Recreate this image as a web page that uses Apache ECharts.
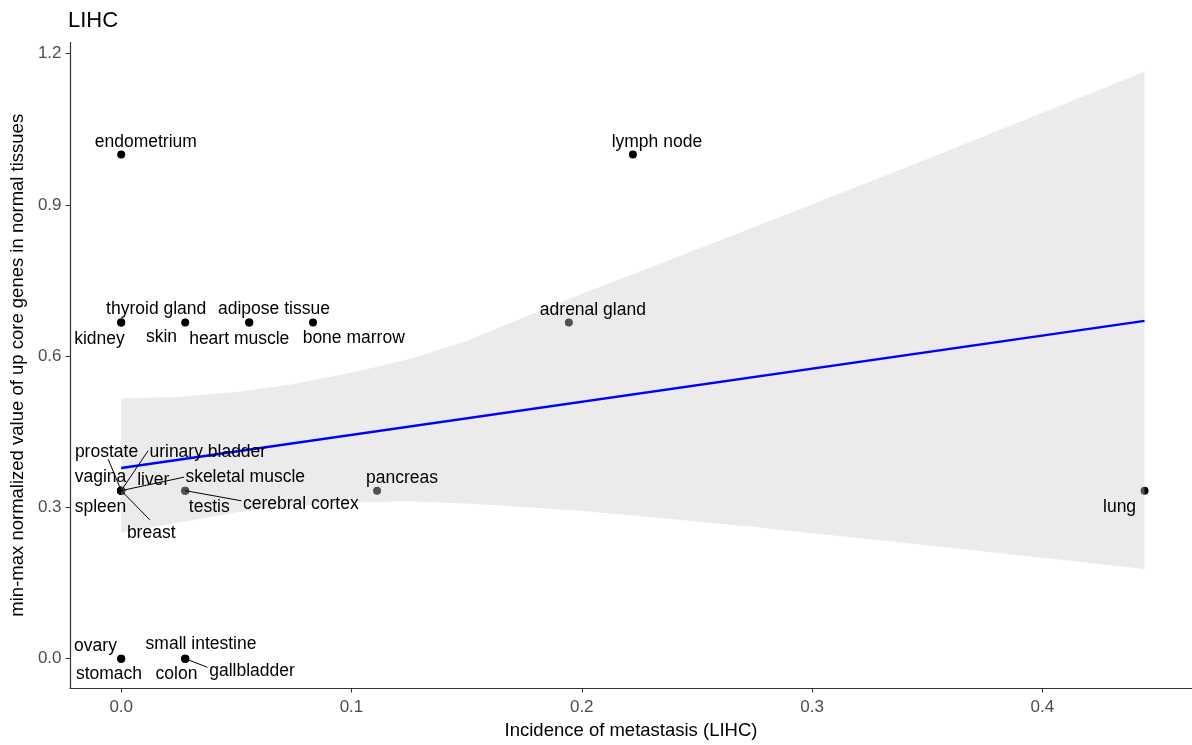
<!DOCTYPE html>
<html><head><meta charset="utf-8">
<script src="https://cdn.jsdelivr.net/npm/echarts@6/dist/echarts.min.js"></script>
<style>html,body{margin:0;padding:0;background:#fff}#c{width:1192px;height:745px}</style>
</head><body><div id="c"></div>
<script>
// ---- data ----
const tissues = ["endometrium","lymph node","thyroid gland","kidney","skin","heart muscle","adipose tissue","bone marrow","adrenal gland","pancreas","lung","prostate","urinary bladder","vagina","liver","skeletal muscle","spleen","breast","testis","cerebral cortex","ovary","stomach","small intestine","colon","gallbladder"];
const metastasis = [0,0.2222,0,0,0.0278,0.0556,0.0556,0.0833,0.1944,0.1111,0.4444,0,0,0,0,0,0,0,0.0278,0.0278,0,0,0.0278,0.0278,0.0278];
const normValue = [1,1,0.6667,0.6667,0.6667,0.6667,0.6667,0.6667,0.6667,0.3333,0.3333,0.3333,0.3333,0.3333,0.3333,0.3333,0.3333,0.3333,0.3333,0.3333,0,0,0,0,0];
const fitX = [0, 0.4444];
const fitY = [0.378, 0.670];
const ciX = [0,0.025,0.05,0.075,0.1,0.125,0.15,0.175,0.2,0.225,0.25,0.275,0.3,0.35,0.4,0.4444];
const ciUpper = [0.516,0.519,0.529,0.545,0.567,0.594,0.630,0.677,0.724,0.767,0.812,0.856,0.901,0.991,1.083,1.164];
const ciLower = [0.250,0.270,0.290,0.303,0.310,0.312,0.308,0.301,0.293,0.283,0.272,0.261,0.249,0.225,0.200,0.178];
const xTicks = [0,0.1,0.2,0.3,0.4];
const yTicks = [0,0.3,0.6,0.9,1.2];
const chartTitle = "LIHC";
const xTitle = "Incidence of metastasis (LIHC)";
const yTitle = "min-max normalized value of up core genes in normal tissues";

// ---- layout (pixel offsets of repelled labels from their points) ----
const labelOffset = [[24.6,-12],[24,-12],[35,-13],[-21.7,17],[-23.7,15],[-10,17],[24.7,-13],[40.7,16],[24,-12.5],[25,-12.5],[-25,16.5],[-14.7,-38.5],[86.6,-38.5],[-20.7,-13],[32,-10],[124,-13],[-20.7,16.5],[30,42.5],[24,16.5],[115.6,14],[-25.7,-12.3],[-12.2,16],[15.8,-14],[-8.7,16],[66.8,12.7]];
const segmentEnd = [null,null,null,null,null,null,null,null,null,null,null,[-13,-31.5],[27,-40],null,null,[63,-13.5],null,[28.6,29.2],null,[56.3,10.2],null,null,null,null,[22.3,8.7]];

const FONT = '"Liberation Sans", Arial, sans-serif';
const chart = echarts.init(document.getElementById('c'), null, {renderer:'canvas'});
const pts = tissues.map((n,i)=>[metastasis[i], normValue[i]]);

chart.setOption({
  animation:false,
  backgroundColor:'#fff',
  title:{text:chartTitle, left:68, top:10, padding:0, textStyle:{fontSize:22, fontWeight:'normal', color:'#000', fontFamily:FONT}},
  grid:{left:69, right:0, top:42.5, bottom:57, containLabel:false},
  xAxis:{type:'value', min:-0.02222, max:0.4650,
    name:xTitle, nameLocation:'middle', nameGap:33,
    nameTextStyle:{fontSize:18.5, color:'#000', fontFamily:FONT},
    axisLine:{show:true, onZero:false, lineStyle:{color:'#333', width:1.2}},
    axisTick:{show:true, length:4.5, customValues:xTicks, lineStyle:{color:'#333', width:1.1}},
    axisLabel:{customValues:xTicks, margin:11, fontSize:17, color:'#4d4d4d', fontFamily:FONT, formatter:v=>v.toFixed(1)},
    splitLine:{show:false}},
  yAxis:{type:'value', min:-0.0582, max:1.2222,
    name:yTitle, nameLocation:'middle', nameGap:39,
    nameTextStyle:{fontSize:18.5, color:'#000', fontFamily:FONT},
    axisLine:{show:true, onZero:false, lineStyle:{color:'#333', width:1.2}},
    axisTick:{show:true, length:4.5, customValues:yTicks, lineStyle:{color:'#333', width:1.1}},
    axisLabel:{customValues:yTicks, margin:8.5, fontSize:17, color:'#4d4d4d', fontFamily:FONT, formatter:v=>v.toFixed(1)},
    splitLine:{show:false}},
  series:[
    {type:'scatter', z:2, data:pts, symbolSize:8, itemStyle:{color:'#000', opacity:1}},
    {type:'custom', z:3, clip:true, data:ciX.map((x,i)=>[x, ciLower[i], ciUpper[i]]),
      encode:{x:0, y:[1,2]},
      renderItem:function(params, api){
        if (params.dataIndex !== 0) return null;
        const poly = [];
        for (let i=0;i<ciX.length;i++) poly.push(api.coord([ciX[i], ciUpper[i]]));
        for (let i=ciX.length-1;i>=0;i--) poly.push(api.coord([ciX[i], ciLower[i]]));
        return {type:'polygon', shape:{points:poly}, style:{fill:'rgba(205,205,205,0.4)', stroke:null}};
      }},
    {type:'line', z:4, data:fitX.map((x,i)=>[x, fitY[i]]), symbol:'none', lineStyle:{color:'#0000ff', width:2.5}},
    {type:'custom', z:5, clip:false, data:pts,
      renderItem:function(params, api){
        const i = params.dataIndex;
        const p = api.coord([api.value(0), api.value(1)]);
        const off = labelOffset[i];
        const children = [];
        const se = segmentEnd[i];
        if (se) children.push({type:'line', shape:{x1:p[0], y1:p[1], x2:p[0]+se[0], y2:p[1]+se[1]}, style:{stroke:'#000', lineWidth:1}});
        children.push({type:'text', style:{text:tissues[i], x:p[0]+off[0], y:p[1]+off[1], align:'center', verticalAlign:'middle', fontSize:17.5, fontFamily:FONT, fill:'#000'}});
        return {type:'group', children:children};
      }}
  ]
});
</script></body></html>
